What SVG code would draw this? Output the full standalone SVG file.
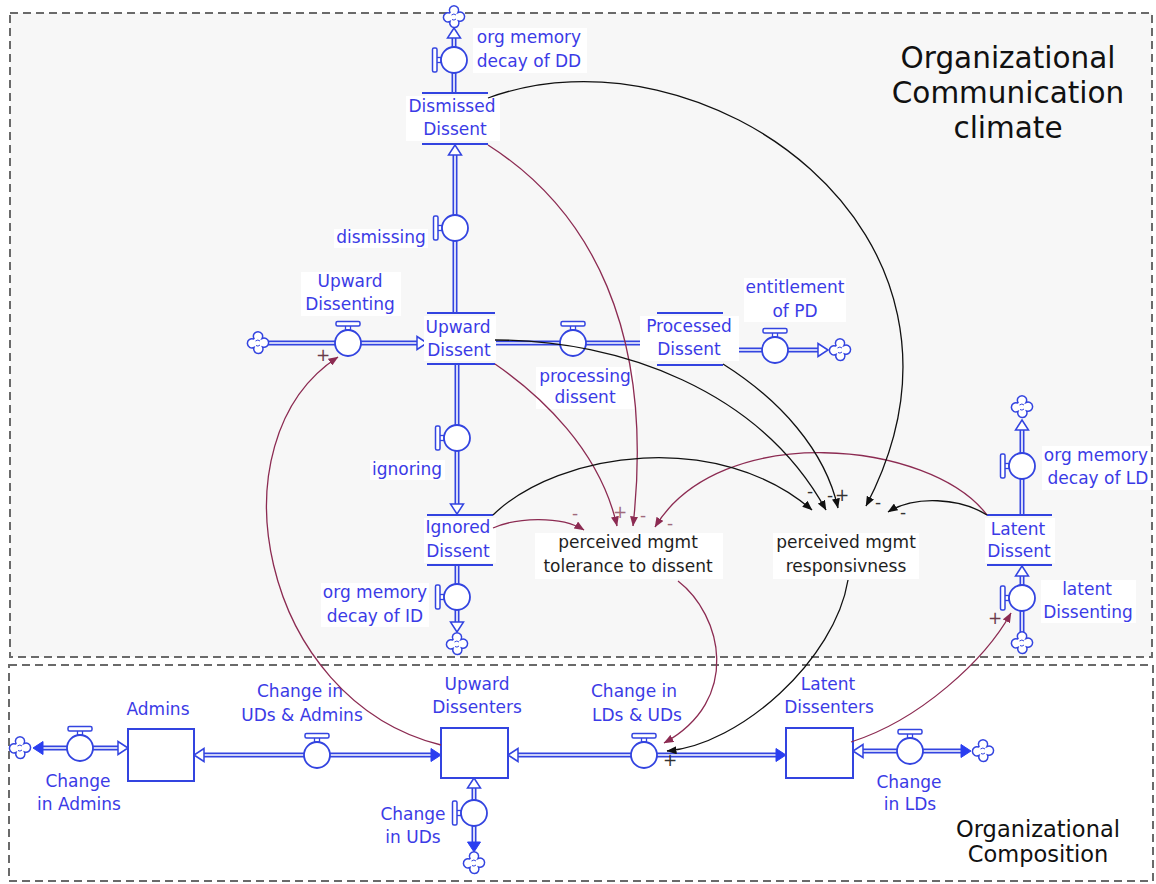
<svg xmlns="http://www.w3.org/2000/svg" xmlns:xlink="http://www.w3.org/1999/xlink" width="1156" height="884" viewBox="0 0 1156 884">
<style>
.frame{stroke:#6a6a6a;stroke-width:2;stroke-dasharray:8 5}
.lbl{font-family:"DejaVu Sans",Verdana,sans-serif;font-size:17px;fill:#3b3be6;text-anchor:middle}
.blk{fill:#1e1e1e}
.bg{fill:#fff}
.sl{stroke:#3344e0;stroke-width:2}
.box{fill:#fff;stroke:#3344e0;stroke-width:2}
.pO{fill:none;stroke:#3344e0;stroke-width:5}
.pI{fill:none;stroke:#fff;stroke-width:1.6}
.lr{fill:none;stroke:#8c2b52;stroke-width:1.3}
.lb{fill:none;stroke:#111;stroke-width:1.3}
.sign{font-family:"DejaVu Sans",sans-serif;font-size:17px;text-anchor:middle}
.sr{fill:#a06a7c}.sb{fill:#333}
.title{font-family:"DejaVu Sans",sans-serif;fill:#111;text-anchor:middle}
</style>
<defs>
<g id="vT">
<rect x="-2.5" y="-18" width="5" height="5" fill="#fff" stroke="#3344e0" stroke-width="1.3"/>
<rect x="-12" y="-21.5" width="24" height="4.5" rx="1.5" fill="#fff" stroke="#3344e0" stroke-width="1.5"/>
<circle r="13" fill="#fff" stroke="#3344e0" stroke-width="1.8"/>
</g>
<g id="vL"><use xlink:href="#vT" href="#vT" transform="rotate(-90)"/></g>
<g id="cl">
<path d="M-4,-4.5 A4.6,4.6 0 1 1 4,-4.5 A4.6,4.6 0 1 1 4.5,4 A4.6,4.6 0 1 1 -4,4.5 A4.6,4.6 0 1 1 -4.5,-4 Z" fill="#fff" stroke="#3344e0" stroke-width="1.5"/>
<path d="M-2.5,-2 q2.5,-2 4.5,0 M-2,2.5 q2,1.5 4,-0.5" fill="none" stroke="#3344e0" stroke-width="1"/>
</g>
<polygon id="ah" points="0,0 -10,-6.5 -10,6.5" fill="#fff" stroke="#3344e0" stroke-width="1.5"/>
<polygon id="af" points="0,0 -10,-6.5 -10,6.5" fill="#2a3ef0" stroke="#2a3ef0" stroke-width="1"/>
<marker id="mr" markerWidth="10" markerHeight="8" refX="9.5" refY="4" orient="auto" markerUnits="userSpaceOnUse"><path d="M0,0 L10,4 L0,8 Z" fill="#8c2b52"/></marker>
<marker id="mb" markerWidth="10" markerHeight="8" refX="9.5" refY="4" orient="auto" markerUnits="userSpaceOnUse"><path d="M0,0 L10,4 L0,8 Z" fill="#111"/></marker>
</defs>

<g id="frames">
<rect class="frame" x="10" y="13" width="1142" height="644" fill="#f7f7f7"/>
<rect class="frame" x="9" y="665" width="1144" height="216" fill="#fff"/>
<text class="title" font-size="29.5" x="1008" y="68">Organizational</text>
<text class="title" font-size="29.5" x="1008" y="103">Communication</text>
<text class="title" font-size="29.5" x="1008" y="138">climate</text>
<text class="title" font-size="22.5" x="1038" y="837">Organizational</text>
<text class="title" font-size="22.5" x="1038" y="862">Composition</text>
</g>

<!-- flows (pipes, valves, clouds) -->
<g id="flow-org-memory-decay-of-DD">
<path class="pO" d="M454,93V37"/><path class="pI" d="M454,93V37"/>
<use href="#ah" transform="translate(454,28) rotate(-90)"/>
<use href="#cl" x="454" y="17"/>
<use href="#vL" x="454" y="60"/>
<rect class="bg" x="473" y="28" width="114" height="45"/>
<text class="lbl" x="529" y="43">org memory</text>
<text class="lbl" x="529" y="67">decay of DD</text>
</g>

<g id="flow-dismissing">
<path class="pO" d="M455,313V152"/><path class="pI" d="M455,313V152"/>
<use href="#ah" transform="translate(455,145) rotate(-90)"/>
<use href="#vL" x="455" y="228"/>
<rect class="bg" x="334" y="229" width="94" height="19"/>
<text class="lbl" x="381" y="243">dismissing</text>
</g>

<g id="flow-upward-dissenting">
<path class="pO" d="M268,343H420"/><path class="pI" d="M268,343H420"/>
<use href="#ah" transform="translate(427,343)"/>
<use href="#cl" x="258" y="343"/>
<use href="#vT" x="348" y="343"/>
<rect class="bg" x="301" y="272" width="100" height="44"/>
<text class="lbl" x="350" y="287">Upward</text>
<text class="lbl" x="350" y="310">Dissenting</text>
</g>

<g id="flow-processing-dissent">
<path class="pO" d="M495,343H642"/><path class="pI" d="M495,343H642"/>
<use href="#vT" x="573" y="343"/>
<rect class="bg" x="536" y="367" width="99" height="42"/>
<text class="lbl" x="585" y="382">processing</text>
<text class="lbl" x="585" y="403">dissent</text>
</g>

<g id="flow-entitlement-of-PD">
<path class="pO" d="M723,350H820"/><path class="pI" d="M723,350H820"/>
<use href="#ah" transform="translate(828,350)"/>
<use href="#cl" x="840" y="350"/>
<use href="#vT" x="775" y="350"/>
<rect class="bg" x="744" y="278" width="102" height="44"/>
<text class="lbl" x="795" y="293">entitlement</text>
<text class="lbl" x="795" y="317">of PD</text>
</g>

<g id="flow-ignoring">
<path class="pO" d="M457,364V506"/><path class="pI" d="M457,364V506"/>
<use href="#ah" transform="translate(457,514) rotate(90)"/>
<use href="#vL" x="457" y="438"/>
<rect class="bg" x="370" y="460" width="75" height="20"/>
<text class="lbl" x="407" y="475">ignoring</text>
</g>

<g id="flow-org-memory-decay-of-ID">
<path class="pO" d="M457,565V624"/><path class="pI" d="M457,565V624"/>
<use href="#ah" transform="translate(457,632) rotate(90)"/>
<use href="#cl" x="457" y="644"/>
<use href="#vL" x="457" y="597"/>
<rect class="bg" x="321" y="583" width="108" height="44"/>
<text class="lbl" x="375" y="598">org memory</text>
<text class="lbl" x="375" y="622">decay of ID</text>
</g>

<g id="flow-org-memory-decay-of-LD">
<path class="pO" d="M1022,515V429"/><path class="pI" d="M1022,515V429"/>
<use href="#ah" transform="translate(1022,420) rotate(-90)"/>
<use href="#cl" x="1022" y="407"/>
<use href="#vL" x="1022" y="466"/>
<rect class="bg" x="1042" y="446" width="108" height="44"/>
<text class="lbl" x="1096" y="461">org memory</text>
<text class="lbl" x="1098" y="484">decay of LD</text>
</g>

<g id="flow-latent-dissenting">
<path class="pO" d="M1022,634V574"/><path class="pI" d="M1022,634V574"/>
<use href="#ah" transform="translate(1022,566) rotate(-90)"/>
<use href="#cl" x="1022" y="643"/>
<use href="#vL" x="1022" y="598"/>
<rect class="bg" x="1041" y="580" width="95" height="43"/>
<text class="lbl" x="1087" y="595">latent</text>
<text class="lbl" x="1088" y="618">Dissenting</text>
</g>

<g id="flow-change-in-admins">
<path class="pO" d="M40,748H120"/><path class="pI" d="M40,748H120"/>
<use href="#af" transform="translate(33,748) rotate(180)"/>
<use href="#ah" transform="translate(128,748)"/>
<use href="#cl" x="20" y="748"/>
<use href="#vT" x="80" y="748"/>
<text class="lbl" x="78" y="787">Change</text>
<text class="lbl" x="79" y="810">in Admins</text>
</g>

<g id="flow-change-in-UDs-and-admins">
<path class="pO" d="M202,755H433"/><path class="pI" d="M202,755H433"/>
<use href="#ah" transform="translate(194,755) rotate(180)"/>
<use href="#af" transform="translate(441,755)"/>
<use href="#vT" x="317" y="755"/>
<text class="lbl" x="300" y="697">Change in</text>
<text class="lbl" x="302" y="721">UDs &amp; Admins</text>
</g>

<g id="flow-change-in-LDs-and-UDs">
<path class="pO" d="M516,755H778"/><path class="pI" d="M516,755H778"/>
<use href="#ah" transform="translate(508,755) rotate(180)"/>
<use href="#af" transform="translate(786,755)"/>
<use href="#vT" x="644" y="755"/>
<text class="lbl" x="634" y="697">Change in</text>
<text class="lbl" x="637" y="721">LDs &amp; UDs</text>
</g>

<g id="flow-change-in-LDs">
<path class="pO" d="M861,751H963"/><path class="pI" d="M861,751H963"/>
<use href="#ah" transform="translate(853,751) rotate(180)"/>
<use href="#af" transform="translate(971,751)"/>
<use href="#cl" x="983" y="751"/>
<use href="#vT" x="910" y="751"/>
<text class="lbl" x="909" y="788">Change</text>
<text class="lbl" x="910" y="810">in LDs</text>
</g>

<g id="flow-change-in-UDs">
<path class="pO" d="M474,786V845"/><path class="pI" d="M474,786V845"/>
<use href="#ah" transform="translate(474,778) rotate(-90)"/>
<use href="#af" transform="translate(474,852) rotate(90)"/>
<use href="#cl" x="474" y="863"/>
<use href="#vL" x="474" y="813"/>
<text class="lbl" x="413" y="820">Change</text>
<text class="lbl" x="413" y="843">in UDs</text>
</g>

<!-- stocks -->
<g id="stock-dismissed-dissent">
<rect class="bg" x="406" y="96" width="94" height="45"/>
<line class="sl" x1="422" y1="93" x2="488" y2="93"/>
<line class="sl" x1="422" y1="144" x2="488" y2="144"/>
<text class="lbl" x="452" y="112">Dismissed</text>
<text class="lbl" x="455" y="135">Dissent</text>
</g>

<g id="stock-upward-dissent">
<rect class="bg" x="424" y="316" width="72" height="45"/>
<line class="sl" x1="427" y1="313" x2="495" y2="313"/>
<line class="sl" x1="427" y1="364" x2="495" y2="364"/>
<text class="lbl" x="458" y="333">Upward</text>
<text class="lbl" x="459" y="356">Dissent</text>
</g>

<g id="stock-processed-dissent">
<rect class="bg" x="640" y="316" width="99" height="45"/>
<line class="sl" x1="657" y1="313" x2="723" y2="313"/>
<line class="sl" x1="657" y1="365" x2="723" y2="365"/>
<text class="lbl" x="689" y="332">Processed</text>
<text class="lbl" x="689" y="355">Dissent</text>
</g>

<g id="stock-ignored-dissent">
<rect class="bg" x="424" y="518" width="72" height="45"/>
<line class="sl" x1="427" y1="515" x2="493" y2="515"/>
<line class="sl" x1="427" y1="565" x2="493" y2="565"/>
<text class="lbl" x="458" y="533">Ignored</text>
<text class="lbl" x="458" y="557">Dissent</text>
</g>

<g id="stock-latent-dissent">
<rect class="bg" x="985" y="518" width="70" height="45"/>
<line class="sl" x1="987" y1="515" x2="1052" y2="515"/>
<line class="sl" x1="987" y1="565" x2="1052" y2="565"/>
<text class="lbl" x="1018" y="535">Latent</text>
<text class="lbl" x="1019" y="557">Dissent</text>
</g>

<g id="stock-admins">
<rect class="box" x="128" y="729" width="66" height="52"/>
<text class="lbl" x="158" y="715">Admins</text>
</g>

<g id="stock-upward-dissenters">
<rect class="box" x="441" y="728" width="67" height="50"/>
<text class="lbl" x="477" y="690">Upward</text>
<text class="lbl" x="477" y="713">Dissenters</text>
</g>

<g id="stock-latent-dissenters">
<rect class="box" x="786" y="728" width="67" height="50"/>
<text class="lbl" x="828" y="690">Latent</text>
<text class="lbl" x="829" y="713">Dissenters</text>
</g>

<!-- auxiliaries -->
<g id="aux-perceived-mgmt-tolerance">
<rect class="bg" x="535" y="533" width="188" height="46"/>
<text class="lbl blk" x="628" y="548">perceived mgmt</text>
<text class="lbl blk" x="628" y="572">tolerance to dissent</text>
</g>

<g id="aux-perceived-mgmt-responsivness">
<rect class="bg" x="773" y="533" width="146" height="46"/>
<text class="lbl blk" x="846" y="548">perceived mgmt</text>
<text class="lbl blk" x="846" y="572">responsivness</text>
</g>

<!-- connectors -->
<g id="connectors">
<path class="lr" marker-end="url(#mr)" d="M488,145 C590,210 655,330 633,526"/>
<path class="lr" marker-end="url(#mr)" d="M495,364 C540,395 600,450 617,526"/>
<path class="lr" marker-end="url(#mr)" d="M493,528 C515,518 560,515 584,530"/>
<path class="lr" marker-end="url(#mr)" d="M987,515 C930,440 720,420 655,527"/>
<path class="lr" marker-end="url(#mr)" d="M678,581 C722,615 742,700 664,743"/>
<path class="lr" marker-end="url(#mr)" d="M441,745 C260,700 210,440 338,357"/>
<path class="lr" marker-end="url(#mr)" d="M851,742 C920,720 985,660 1011,613"/>
<path class="lb" marker-end="url(#mb)" d="M488,98 C700,20 1010,230 866,506"/>
<path class="lb" marker-end="url(#mb)" d="M495,340 C620,340 760,390 826,510"/>
<path class="lb" marker-end="url(#mb)" d="M723,364 C780,400 825,450 838,508"/>
<path class="lb" marker-end="url(#mb)" d="M493,515 C560,450 720,430 812,510"/>
<path class="lb" marker-end="url(#mb)" d="M987,515 C960,498 915,495 888,512"/>
<path class="lb" marker-end="url(#mb)" d="M848,580 C835,660 740,745 667,751"/>
<text class="sign sr" x="575" y="519">-</text>
<text class="sign sr" x="620" y="518">+</text>
<text class="sign sr" x="643" y="521">-</text>
<text class="sign sr" x="670" y="529">-</text>
<text class="sign sb" x="810" y="497">-</text>
<text class="sign sb" x="830" y="501">-</text>
<text class="sign sb" x="842" y="501">+</text>
<text class="sign sb" x="878" y="508">-</text>
<text class="sign sb" x="903" y="518">-</text>
<text class="sign" fill="#6a3a4a" x="323" y="361">+</text>
<text class="sign" fill="#6a3a4a" x="995" y="624">+</text>
<text class="sign sb" x="670" y="766">+</text>
</g>
</svg>
